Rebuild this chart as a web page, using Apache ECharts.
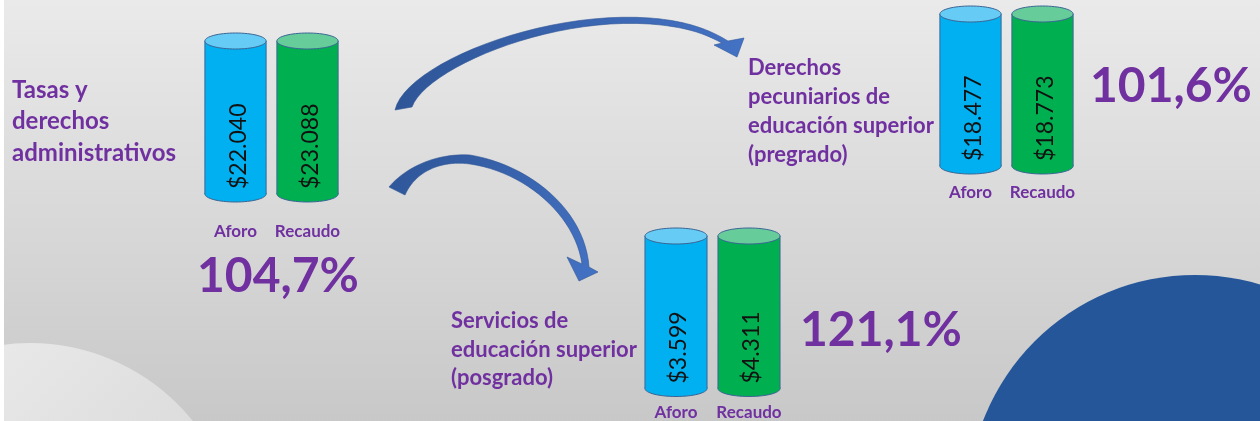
<!doctype html>
<html>
<head>
  <meta charset="utf-8">
  <title>Tasas y derechos administrativos</title>
  <script src="https://cdn.jsdelivr.net/npm/echarts@6/dist/echarts.min.js"></script>
  <style>
    html, body { margin: 0; padding: 0; background: #fff; }
    #main { width: 1260px; height: 421px; }
  </style>
</head>
<body>
  <div id="main"></div>
  <script>
    // datos (millones de pesos)
    var categorias = ['Aforo', 'Recaudo'];
    var grupos = [
      'Tasas y\nderechos\nadministrativos',
      'Derechos\npecuniarios de\neducación superior\n(pregrado)',
      'Servicios de\neducación superior\n(posgrado)'
    ];
    var aforo = [22040, 18477, 3599];
    var recaudo = [23088, 18773, 4311];
    var cumplimiento = [104.7, 101.6, 121.1];

    var morado = '#7030A0';
    var fuente = 'Lato, "Open Sans", sans-serif';

    function pesos(v) {
      return '$' + String(v).replace(/\B(?=(\d{3})+(?!\d))/g, '.');
    }
    function pct(v) {
      return v.toFixed(1).replace('.', ',') + '%';
    }

    // posicion de cada bloque
    var grids = [
      { left: 199.5, top: 41, width: 144, height: 153 },
      { left: 934.5, top: 14, width: 144, height: 152 },
      { left: 639.5, top: 236, width: 146, height: 153 }
    ];
    var margenes = [29.5, 18.5, 15.5];
    var titulos = [
      { x: 12, y: 74.5, size: 24, lh: 31.5 },
      { x: 748, y: 53.5, size: 22, lh: 29 },
      { x: 451, y: 306.5, size: 22, lh: 28.7 }
    ];
    var porcentajes = [
      { x: 197, y: 277 },
      { x: 1090, y: 87 },
      { x: 800, y: 331 }
    ];

    var colores = [
      { body: '#00B0F0', top: '#66CCF5' },
      { body: '#00B050', top: '#66CC99' }
    ];

    function cilindro(params, api) {
      var idx = api.value(0);
      var bot = api.coord([idx, 0]);
      var cx = bot[0];
      var yb = bot[1];
      var yt = params.coordSys.y;
      var w = api.size([1, 0])[0] * 0.85;
      var rx = w / 2, ry = 8;
      var c = colores[idx];
      var borde = '#3B6595';
      return {
        type: 'group',
        children: [
          {
            type: 'ellipse',
            shape: { cx: cx, cy: yb, rx: rx, ry: ry },
            style: { fill: c.body, stroke: borde, lineWidth: 1 }
          },
          {
            type: 'rect',
            shape: { x: cx - rx, y: yt, width: w, height: yb - yt },
            style: { fill: c.body }
          },
          {
            type: 'line',
            shape: { x1: cx - rx, y1: yt, x2: cx - rx, y2: yb },
            style: { stroke: borde, lineWidth: 1 }
          },
          {
            type: 'line',
            shape: { x1: cx + rx, y1: yt, x2: cx + rx, y2: yb },
            style: { stroke: borde, lineWidth: 1 }
          },
          {
            type: 'ellipse',
            shape: { cx: cx, cy: yt, rx: rx, ry: ry },
            style: { fill: c.top, stroke: borde, lineWidth: 1 }
          },
          {
            type: 'text',
            x: cx + 3,
            y: yb - 5,
            rotation: Math.PI / 2,
            style: {
              text: pesos(api.value(1)),
              fill: '#111',
              fontSize: 23,
              fontFamily: fuente,
              align: 'left',
              verticalAlign: 'middle'
            }
          }
        ]
      };
    }

    // curva de bezier cubica muestreada
    function bez(p0, p1, p2, p3) {
      var pts = [];
      for (var k = 0; k <= 24; k++) {
        var t = k / 24, u = 1 - t;
        pts.push([
          u * u * u * p0[0] + 3 * u * u * t * p1[0] + 3 * u * t * t * p2[0] + t * t * t * p3[0],
          u * u * u * p0[1] + 3 * u * u * t * p1[1] + 3 * u * t * t * p2[1] + t * t * t * p3[1]
        ]);
      }
      return pts;
    }

    var flecha1 = [].concat(
      bez([395, 110], [405, 65], [540, 10], [650, 18]),
      bez([650, 18], [688, 21], [710, 30], [728, 41]),
      [[744, 38], [737, 57], [714, 45], [722, 43]],
      bez([722, 43], [705, 34], [688, 27], [650, 24]),
      bez([650, 24], [545, 17], [425, 70], [412, 107])
    );
    var flecha2 = [].concat(
      bez([389, 187], [405, 168], [435, 153], [470, 155]),
      bez([470, 155], [530, 165], [585, 210], [589, 267]),
      [[598, 272], [579, 281], [567, 257], [582, 264]],
      bez([582, 264], [575, 215], [525, 172], [470, 164]),
      bez([470, 164], [440, 160], [415, 172], [405, 195])
    );

    var xAxes = [], yAxes = [], series = [], textos = [];
    grids.forEach(function (g, i) {
      xAxes.push({
        type: 'category', gridIndex: i, data: categorias,
        axisLine: { show: false }, axisTick: { show: false }, splitLine: { show: false },
        axisLabel: {
          interval: 0, hideOverlap: false,
          color: morado, fontWeight: 'bold', fontSize: 17, fontFamily: fuente, margin: margenes[i]
        }
      });
      yAxes.push({ type: 'value', gridIndex: i, min: 0, show: false });
      series.push({
        type: 'custom', xAxisIndex: i, yAxisIndex: i,
        renderItem: cilindro,
        encode: { x: 0, y: 1 },
        data: [[0, aforo[i]], [1, recaudo[i]]],
        z: 5
      });
      textos.push({
        type: 'text', x: titulos[i].x, y: titulos[i].y, z: 10,
        style: {
          text: grupos[i], fill: morado, fontFamily: fuente, fontWeight: 'bold',
          fontSize: titulos[i].size, lineHeight: titulos[i].lh,
          align: 'left', verticalAlign: 'top'
        }
      });
      textos.push({
        type: 'text', x: porcentajes[i].x, y: porcentajes[i].y, z: 10,
        style: {
          text: pct(cumplimiento[i]), fill: morado, fontFamily: fuente, fontWeight: 'bold',
          fontSize: 48, align: 'left', verticalAlign: 'middle'
        }
      });
    });

    // fondo y decoracion
    var fondo = [
      {
        type: 'rect', z: -10, silent: true,
        shape: { x: 0, y: 0, width: 1260, height: 421 },
        style: { fill: new echarts.graphic.LinearGradient(0, 0, 0, 1, [
          { offset: 0, color: '#eaeaea' }, { offset: 1, color: '#c8c8c8' }]) }
      },
      {
        type: 'circle', z: -9, silent: true,
        shape: { cx: 30, cy: 552, r: 209 },
        style: { fill: new echarts.graphic.LinearGradient(0, 0, 1, 1, [
          { offset: 0, color: '#f0f0f0' }, { offset: 0.5, color: '#dedede' }, { offset: 1, color: '#d2d2d2' }]) }
      },
      {
        type: 'circle', z: -9, silent: true,
        shape: { cx: 1195, cy: 502, r: 227 },
        style: { fill: '#245699' }
      },
      {
        type: 'rect', z: -8, silent: true,
        shape: { x: 0, y: 0, width: 4, height: 421 },
        style: { fill: '#ffffff' }
      },
      {
        type: 'polygon', z: 8, silent: true,
        shape: { points: flecha1 },
        style: { fill: new echarts.graphic.LinearGradient(0, 0, 1, 0, [
          { offset: 0, color: '#2E5597' }, { offset: 1, color: '#4472C4' }]), stroke: '#2F5597', lineWidth: 0.6 }
      },
      {
        type: 'polygon', z: 8, silent: true,
        shape: { points: flecha2 },
        style: { fill: new echarts.graphic.LinearGradient(0, 0, 1, 1, [
          { offset: 0, color: '#2E5597' }, { offset: 1, color: '#4472C4' }]), stroke: '#2F5597', lineWidth: 0.6 }
      }
    ];

    var chart = echarts.init(document.getElementById('main'), null, { renderer: 'canvas' });
    chart.setOption({
      animation: false,
      backgroundColor: '#e0e0e0',
      grid: grids,
      xAxis: xAxes,
      yAxis: yAxes,
      series: series,
      graphic: fondo.concat(textos)
    });
  </script>
</body>
</html>
